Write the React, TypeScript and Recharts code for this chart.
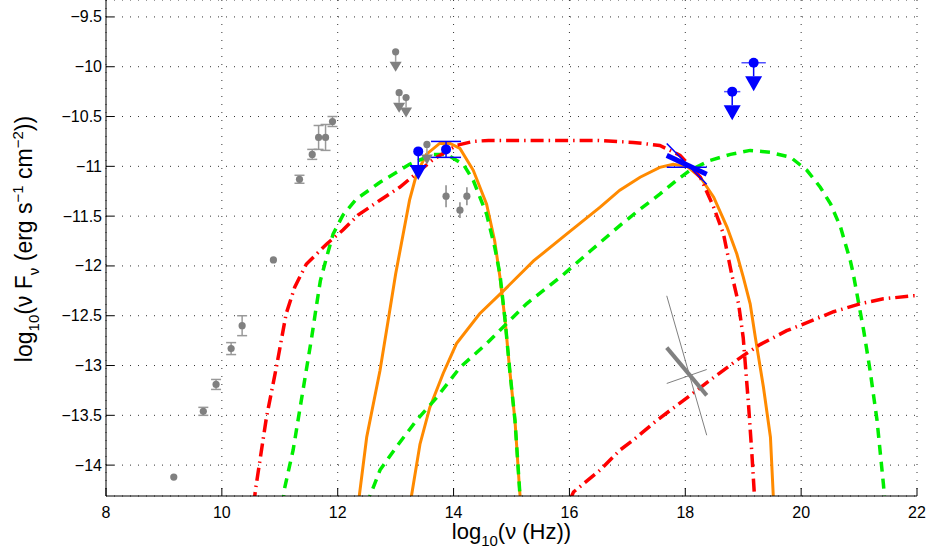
import React from 'react';
import { ComposedChart, Line, Scatter, XAxis, YAxis, CartesianGrid, ErrorBar } from 'recharts';

const xTicks = [8, 10, 12, 14, 16, 18, 20, 22];
const yTicks = [-14, -13.5, -13, -12.5, -12, -11.5, -11, -10.5, -10, -9.5];

// Model A (red, dash-dot): synchrotron + inverse Compton
const redSyncX = [10.55, 10.58, 10.77, 10.94, 11.11, 11.26, 11.46, 11.81, 12.09, 12.35, 12.73, 13.07, 13.65, 14.05, 14.34, 14.6, 15.5, 16.5, 17.1, 17.56, 17.91, 18.26, 18.49, 18.66, 18.8, 18.92, 19.0, 19.09, 19.15, 19.19, 19.2];
const redSyncY = [-14.4, -14.25, -13.52, -13.02, -12.48, -12.21, -11.98, -11.78, -11.64, -11.49, -11.34, -11.21, -10.93, -10.79, -10.75, -10.74, -10.74, -10.74, -10.76, -10.79, -10.89, -11.11, -11.41, -11.68, -12.08, -12.38, -12.72, -13.38, -13.89, -14.27, -14.4];
const redIcX = [16.0, 16.07, 16.53, 16.87, 17.1, 17.51, 17.97, 18.49, 19.0, 19.29, 19.75, 20.1, 20.56, 21.02, 21.42, 21.94, 22.0];
const redIcY = [-14.36, -14.27, -14.05, -13.85, -13.75, -13.55, -13.35, -13.12, -12.9, -12.79, -12.65, -12.57, -12.46, -12.38, -12.33, -12.3, -12.3];

// Model B (green, dashed)
const greenSyncX = [11.05, 11.08, 11.23, 11.4, 11.55, 11.63, 11.7, 11.81, 11.92, 12.09, 12.32, 12.73, 13.24, 13.65, 13.88, 14.17, 14.34, 14.57, 14.71, 14.8, 14.89, 14.97, 15.06, 15.14, 15.16];
const greenSyncY = [-14.4, -14.24, -13.85, -13.25, -12.72, -12.41, -12.15, -11.91, -11.68, -11.49, -11.33, -11.16, -10.98, -10.88, -10.88, -10.98, -11.14, -11.48, -11.81, -12.08, -12.55, -13.05, -13.55, -14.25, -14.4];
const greenIcX = [12.53, 12.55, 12.73, 13.01, 13.36, 13.71, 14.11, 14.57, 15.26, 15.87, 16.36, 16.9, 17.22, 17.56, 17.85, 18.08, 18.43, 18.78, 19.12, 19.47, 19.82, 20.1, 20.33, 20.51, 20.68, 20.85, 20.9, 21.08, 21.19, 21.31, 21.42, 21.45];
const greenIcY = [-14.4, -14.32, -14.05, -13.82, -13.55, -13.32, -13.02, -12.78, -12.38, -12.1, -11.85, -11.58, -11.43, -11.28, -11.14, -11.04, -10.94, -10.88, -10.84, -10.86, -10.91, -11.04, -11.21, -11.38, -11.61, -11.95, -12.08, -12.65, -13.05, -13.55, -14.19, -14.4];

// Model C (orange, solid)
const orangeSyncX = [12.36, 12.37, 12.5, 12.73, 12.87, 13.0, 13.13, 13.24, 13.36, 13.53, 13.76, 13.94, 14.11, 14.34, 14.57, 14.71, 14.8, 14.89, 14.97, 15.06, 15.14, 15.16];
const orangeSyncY = [-14.4, -14.32, -13.72, -13.05, -12.55, -12.08, -11.68, -11.34, -11.08, -10.88, -10.77, -10.77, -10.82, -11.04, -11.38, -11.75, -12.11, -12.55, -13.05, -13.55, -14.25, -14.4];
const orangeIcX = [13.25, 13.27, 13.42, 13.59, 13.82, 14.05, 14.45, 14.86, 15.38, 15.95, 16.53, 16.87, 17.22, 17.56, 17.79, 18.03, 18.26, 18.49, 18.72, 18.89, 19.0, 19.12, 19.21, 19.35, 19.47, 19.52, 19.53];
const orangeIcY = [-14.4, -14.32, -13.79, -13.42, -13.08, -12.78, -12.48, -12.25, -11.95, -11.68, -11.41, -11.24, -11.11, -11.01, -10.98, -11.0, -11.11, -11.31, -11.61, -11.88, -12.11, -12.38, -12.72, -13.22, -13.72, -14.32, -14.4];

// Archival data (gray)
const grayX = [9.17, 9.68, 9.9, 10.16, 10.35, 10.89, 11.34, 11.56, 11.67, 11.79, 11.91];
const grayY = [-14.12, -13.46, -13.19, -12.83, -12.6, -11.94, -11.13, -10.88, -10.71, -10.71, -10.55];
const grayErr = [0, 0.04, 0.05, 0.06, 0.1, 0, 0.04, 0.05, 0.12, 0.13, 0.05];
const grayOptX = [13.87, 14.11, 14.23];
const grayOptY = [-11.3, -11.44, -11.3];
const grayOptErr = [0.11, 0.08, 0.09];
const grayUlX = [13.0, 13.06, 13.18, 13.54];
const grayUlY = [-9.85, -10.26, -10.31, -10.78];

// New data (blue)
const blueX = [13.87];
const blueY = [-10.83];
const blueErr = [0.08];
const blueUlX = [13.39, 18.81, 19.18];
const blueUlY = [-10.85, -10.25, -9.96];
const blueUlXErr = [0, 0.14, 0.21];

// Bow-ties
const blueBowX = [17.68, 18.37];
const blueBowMid = [-10.89, -11.08];
const blueBowA = [-10.77, -11.18];
const blueBowB = [-11.01, -11.01];
const grayBowX = [17.68, 18.37];
const grayBowMid = [-12.82, -13.3];
const grayBowA = [-12.3, -13.7];
const grayBowB = [-13.18, -13.04];

const zip = (xs: number[], ys: number[]) => xs.map((x, i) => ({ x, y: ys[i] }));
const zipErr = (xs: number[], ys: number[], es: number[], key: string) =>
  xs.map((x, i) => ({ x, y: ys[i], [key]: es[i] }));

const FONT = '"Liberation Sans", Arial, Helvetica, sans-serif';
const fmt = (v: number) => String(v).replace('-', '\u2212');

const XTick = (props: any) => {
  const { x, y, payload } = props;
  return (
    <g>
      <line x1={x} y1={y} x2={x} y2={y - 8} stroke="#000" strokeWidth={1} />
      <text x={x} y={y + 22} textAnchor="middle" fontSize={16} fontFamily={FONT} fill="#000">
        {fmt(payload.value)}
      </text>
    </g>
  );
};

const YTick = (props: any) => {
  const { x, y, payload } = props;
  return (
    <g>
      <line x1={x} y1={y} x2={x + 8} y2={y} stroke="#000" strokeWidth={1} />
      <text x={x - 4} y={y + 5.5} textAnchor="end" fontSize={16} fontFamily={FONT} fill="#000">
        {fmt(payload.value)}
      </text>
    </g>
  );
};

const XLabel = (props: any) => {
  const vb = props.viewBox || { x: 106, y: 496, width: 811, height: 58 };
  return (
    <text x={vb.x + vb.width / 2} y={vb.y + 43} textAnchor="middle" fontSize={22} fontFamily={FONT} fill="#000">
      log<tspan fontSize={15} dy={7}>10</tspan>
      <tspan dy={-7}>(ν (Hz))</tspan>
    </text>
  );
};

const YLabel = () => {
  const cx = 32;
  const cy = 239;
  return (
    <text x={cx} y={cy} transform={`rotate(-90 ${cx} ${cy})`} textAnchor="middle" fontSize={23} fontFamily={FONT} fill="#000">
      log<tspan fontSize={15} dy={7}>10</tspan>
      <tspan dy={-7}>(ν F</tspan>
      <tspan fontSize={15} dy={7}>ν</tspan>
      <tspan dy={-7}> (erg s</tspan>
      <tspan fontSize={15} dy={-9}>−1</tspan>
      <tspan dy={9}> cm</tspan>
      <tspan fontSize={15} dy={-9}>−2</tspan>
      <tspan dy={9}>))</tspan>
    </text>
  );
};

const grayDot = (props: any) => <circle cx={props.cx} cy={props.cy} r={3.6} fill="#808080" />;
const blueDot = (props: any) => <circle cx={props.cx} cy={props.cy} r={5} fill="#0000ff" />;

const makeUL = (r: number, color: string, lineColor: string, top: number, tip: number, halfW: number) => (props: any) => {
  const { cx, cy } = props;
  return (
    <g>
      <line x1={cx} y1={cy} x2={cx} y2={cy + top} stroke={lineColor} strokeWidth={1.5} />
      <polygon points={`${cx - halfW},${cy + top} ${cx + halfW},${cy + top} ${cx},${cy + tip}`} fill={color} />
      <circle cx={cx} cy={cy} r={r} fill={color} />
    </g>
  );
};
const grayUlShape = makeUL(3.6, '#808080', '#a0a0a0', 10, 20, 6);
const blueUlShape = makeUL(5, '#0000ff', '#0000ff', 13.5, 28.5, 8.5);

const RED = '#ff0000';
const GREEN = '#00ee00';
const ORANGE = '#ff8a00';
const RED_DASH = '13 5 1.5 5';
const GREEN_DASH = '10 7';

export default function App() {
  const lineCommon = { type: 'linear' as const, dataKey: 'y', dot: false, activeDot: false, isAnimationActive: false, legendType: 'none' as const };
  return (
    <div style={{ position: 'absolute', left: 0, top: 0, background: '#fff' }}>
      <ComposedChart width={929} height={554} margin={{ top: 0, right: 12, bottom: 0, left: 0 }}>
        <CartesianGrid stroke="#333" strokeWidth={1} strokeDasharray="1 7" />
        <XAxis
          type="number"
          dataKey="x"
          domain={[8, 22]}
          ticks={xTicks}
          interval={0}
          allowDataOverflow
          height={58}
          axisLine={{ stroke: '#000', strokeWidth: 1 }}
          tickLine={false}
          tickSize={0}
          tickMargin={0}
          tick={<XTick />}
          label={<XLabel />}
        />
        <YAxis
          type="number"
          dataKey="y"
          domain={[-14.31, -9.33]}
          ticks={yTicks}
          interval={0}
          allowDataOverflow
          width={106}
          axisLine={{ stroke: '#000', strokeWidth: 1 }}
          tickLine={false}
          tickSize={0}
          tickMargin={0}
          tick={<YTick />}
          label={<YLabel />}
        />
        <Line {...lineCommon} data={zip(orangeSyncX, orangeSyncY)} stroke={ORANGE} strokeWidth={3} />
        <Line {...lineCommon} data={zip(orangeIcX, orangeIcY)} stroke={ORANGE} strokeWidth={3} />
        <Line {...lineCommon} data={zip(greenSyncX, greenSyncY)} stroke={GREEN} strokeWidth={3.5} strokeDasharray={GREEN_DASH} />
        <Line {...lineCommon} data={zip(greenIcX, greenIcY)} stroke={GREEN} strokeWidth={3.5} strokeDasharray={GREEN_DASH} />
        <Line {...lineCommon} data={zip(redSyncX, redSyncY)} stroke={RED} strokeWidth={3.5} strokeDasharray={RED_DASH} />
        <Line {...lineCommon} data={zip(redIcX, redIcY)} stroke={RED} strokeWidth={3.5} strokeDasharray={RED_DASH} />

        <Line {...lineCommon} data={zip(grayBowX, grayBowA)} stroke="#808080" strokeWidth={1} />
        <Line {...lineCommon} data={zip(grayBowX, grayBowB)} stroke="#808080" strokeWidth={1} />
        <Line {...lineCommon} data={zip(grayBowX, grayBowMid)} stroke="#808080" strokeWidth={4} />
        <Line {...lineCommon} data={zip(blueBowX, blueBowA)} stroke="#0000ff" strokeWidth={1.5} />
        <Line {...lineCommon} data={zip(blueBowX, blueBowB)} stroke="#0000ff" strokeWidth={1.5} />
        <Line {...lineCommon} data={zip(blueBowX, blueBowMid)} stroke="#0000ff" strokeWidth={5} />

        <Scatter data={zipErr(grayX, grayY, grayErr, 'err')} dataKey="y" shape={grayDot} isAnimationActive={false} legendType="none">
          <ErrorBar dataKey="err" direction="y" width={5} stroke="#999" strokeWidth={1.5} isAnimationActive={false} />
        </Scatter>
        <Scatter data={zipErr(grayOptX, grayOptY, grayOptErr, 'err')} dataKey="y" shape={grayDot} isAnimationActive={false} legendType="none">
          <ErrorBar dataKey="err" direction="y" width={0} stroke="#888" strokeWidth={1.5} isAnimationActive={false} />
        </Scatter>
        <Scatter data={zip(grayUlX, grayUlY)} dataKey="y" shape={grayUlShape} isAnimationActive={false} legendType="none" />
        <Scatter data={zipErr(blueUlX, blueUlY, blueUlXErr, 'xerr')} dataKey="y" shape={blueUlShape} isAnimationActive={false} legendType="none">
          <ErrorBar dataKey="xerr" direction="x" width={0} stroke="#5050ff" strokeWidth={1.5} isAnimationActive={false} />
        </Scatter>
        <Scatter data={zipErr(blueX, blueY, blueErr, 'err')} dataKey="y" shape={blueDot} isAnimationActive={false} legendType="none">
          <ErrorBar dataKey="err" direction="y" width={15} stroke="#0000ff" strokeWidth={1.5} isAnimationActive={false} />
        </Scatter>
      </ComposedChart>
    </div>
  );
}
